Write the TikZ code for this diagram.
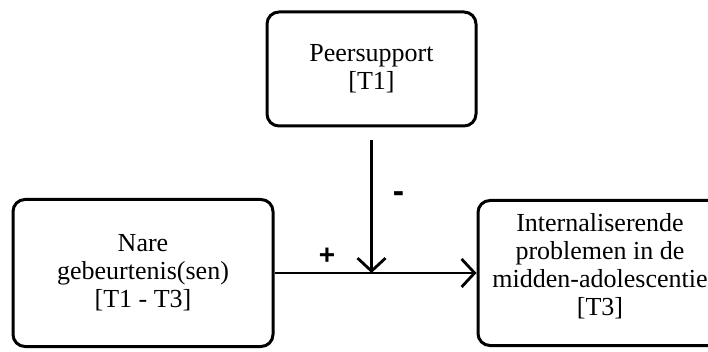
\documentclass[tikz,border=0pt]{standalone}
\usepackage{fontspec}
\setmainfont{Liberation Serif}
\newfontfamily\signfont{Liberation Sans}
\usetikzlibrary{arrows.meta, positioning}
\tikzset{
box/.style={draw, line width=3pt, rounded corners=12pt, align=center, inner sep=0pt, font=\fontsize{26}{28}\selectfont}, % the three variable boxes
link/.style={line width=2.8pt, -{Straight Barb[length=13pt, width=28pt]}}, % open arrow heads
sign/.style={font=\signfont\bfseries\fontsize{28}{28}\selectfont}, % + and - on the paths
}

\begin{document}
\begin{tikzpicture}[x=1pt, y=-1pt]
    \useasboundingbox (0,0) rectangle (708,352);
    \clip (0,0) rectangle (708,352);
    \node[box, minimum width=209pt, minimum height=114pt] (peer) at (371.5,69) {Peersupport\\{[T1]}};
    \node[box, minimum width=260pt, minimum height=147pt] (nare) at (143,273) {Nare\\gebeurtenis(sen)\\{[T1 - T3]}};
    \node[box, minimum width=244pt, minimum height=145pt, text depth=17pt] (intern) at (600,273) {Internaliserende\\problemen in de\\midden-adolescentie\\{[T3]}};
    \coordinate (meet) at (peer.south |- nare.east);
    \draw[link] (nare) -- node[sign, pos=0.26, yshift=17pt] {+} (intern);
    \draw[link, shorten <=13pt] (peer) -- node[sign, pos=0.48, xshift=27pt, font=\signfont\bfseries\fontsize{34}{34}\selectfont] {-} (meet);
\end{tikzpicture}
\end{document}
